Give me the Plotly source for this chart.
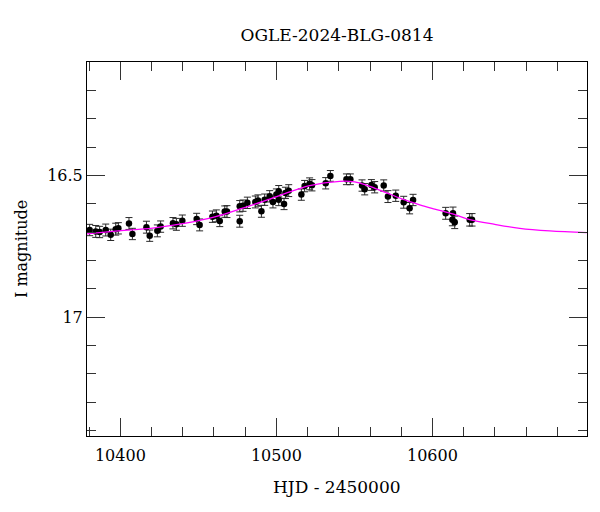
import plotly.graph_objects as go

# observed points (HJD - 2450000, I mag, error)
hjd = [
    10380.3, 10384.2, 10386.7, 10390.6, 10393.8, 10397.0, 10398.7, 10405.5,
    10407.7, 10416.7, 10418.8, 10423.7, 10425.8, 10433.7, 10435.9, 10439.7,
    10448.9, 10450.8, 10459.0, 10461.5, 10463.7, 10466.9, 10468.3, 10476.5,
    10476.5, 10478.6, 10481.4, 10486.5, 10488.2, 10490.4, 10492.5, 10495.7,
    10497.8, 10500.0, 10501.5, 10501.5, 10504.9, 10505.8, 10507.9, 10516.0,
    10518.1, 10521.3, 10522.8, 10531.6, 10534.6, 10544.9, 10547.4, 10554.9,
    10556.6, 10560.9, 10563.0, 10568.8, 10571.5, 10576.5, 10581.6, 10585.4,
    10587.6, 10608.5, 10613.2, 10612.8, 10614.3, 10623.9, 10625.4,
]
mag = [
    16.692, 16.697, 16.699, 16.692, 16.709, 16.689, 16.686, 16.669,
    16.706, 16.682, 16.712, 16.695, 16.680, 16.668, 16.672, 16.659,
    16.653, 16.674, 16.645, 16.642, 16.660, 16.627, 16.627, 16.608,
    16.661, 16.606, 16.596, 16.593, 16.588, 16.626, 16.585, 16.573,
    16.593, 16.567, 16.555, 16.585, 16.600, 16.561, 16.553, 16.567,
    16.537, 16.529, 16.534, 16.527, 16.501, 16.513, 16.513, 16.535,
    16.548, 16.533, 16.541, 16.535, 16.574, 16.571, 16.594, 16.615,
    16.586, 16.633, 16.633, 16.656, 16.665, 16.656, 16.656,
]
err = [
    0.020, 0.021, 0.020, 0.021, 0.020, 0.021, 0.020, 0.021,
    0.020, 0.021, 0.020, 0.021, 0.020, 0.020, 0.021, 0.020,
    0.020, 0.021, 0.020, 0.021, 0.020, 0.020, 0.021, 0.020,
    0.021, 0.020, 0.020, 0.021, 0.020, 0.021, 0.020, 0.020,
    0.021, 0.020, 0.020, 0.021, 0.020, 0.020, 0.021, 0.020,
    0.020, 0.021, 0.020, 0.020, 0.019, 0.019, 0.019, 0.020,
    0.020, 0.019, 0.020, 0.020, 0.021, 0.020, 0.021, 0.020,
    0.020, 0.021, 0.022, 0.021, 0.022, 0.022, 0.022,
]

# model curve
model_hjd = [
    10378.4, 10398.9, 10420.7, 10441.9, 10461.1, 10478.4, 10500.2, 10521.3,
    10540.6, 10550.2, 10558.5, 10569.4, 10580.3, 10591.9, 10601.5, 10613.0,
    10623.9, 10640.0, 10656.0, 10675.2, 10698.9,
]
model_mag = [
    16.706, 16.695, 16.685, 16.668, 16.645, 16.615, 16.574, 16.535,
    16.520, 16.522, 16.535, 16.558, 16.582, 16.603, 16.618, 16.635,
    16.655, 16.672, 16.686, 16.695, 16.701,
]

FONT = "DejaVu Serif"

fig = go.Figure()

fig.add_trace(go.Scatter(
    x=hjd, y=mag,
    mode="markers",
    marker=dict(color="black", size=6.5),
    error_y=dict(type="data", array=err, color="#2a2a2a", thickness=1, width=3.5),
    showlegend=False,
))

fig.add_trace(go.Scatter(
    x=model_hjd, y=model_mag,
    mode="lines",
    line=dict(color="#ff00ff", width=1.3, shape="spline"),
    showlegend=False,
))

axis = dict(
    showline=True,
    linecolor="black",
    linewidth=1,
    mirror="ticks",
    ticks="inside",
    ticklen=18,
    tickwidth=1,
    tickcolor="#333333",
    showgrid=False,
    zeroline=False,
    automargin=False,
    tickfont=dict(family=FONT, size=16, color="black"),
)

fig.update_xaxes(
    axis,
    range=[10378.6, 10699.1],
    dtick=100,
    tick0=10400,
    tickformat="d",
    ticklabelstandoff=5,
    minor=dict(ticks="inside", ticklen=9, dtick=20, tick0=10380, tickcolor="#333333", showgrid=False),
)
fig.update_yaxes(
    axis,
    range=[17.419, 16.099],
    dtick=0.5,
    tick0=16.5,
    minor=dict(ticks="inside", ticklen=9, dtick=0.1, tick0=16.5, tickcolor="#333333", showgrid=False),
)

# page body adds an 8 px offset, so margins are shifted accordingly
fig.update_layout(
    width=600,
    height=512,
    margin=dict(l=79, r=21, t=54, b=84),
    plot_bgcolor="white",
    paper_bgcolor="white",
    title=dict(
        text="OGLE-2024-BLG-0814",
        font=dict(family=FONT, size=17, color="black"),
        x=329 / 600, xanchor="center",
        y=1 - 27 / 512, yanchor="middle", yref="container",
    ),
    annotations=[
        dict(
            text="HJD - 2450000", xref="paper", yref="paper",
            x=0.5, y=(436 - 487) / 374, xanchor="center", yanchor="middle",
            showarrow=False, font=dict(family=FONT, size=17, color="black"),
        ),
        dict(
            text="I magnitude", xref="paper", yref="paper",
            x=(21 - 87) / 500, y=0.5, xanchor="center", yanchor="middle",
            textangle=-90, showarrow=False,
            font=dict(family=FONT, size=16, color="black"),
        ),
    ],
)

fig.write_html("out.html")
